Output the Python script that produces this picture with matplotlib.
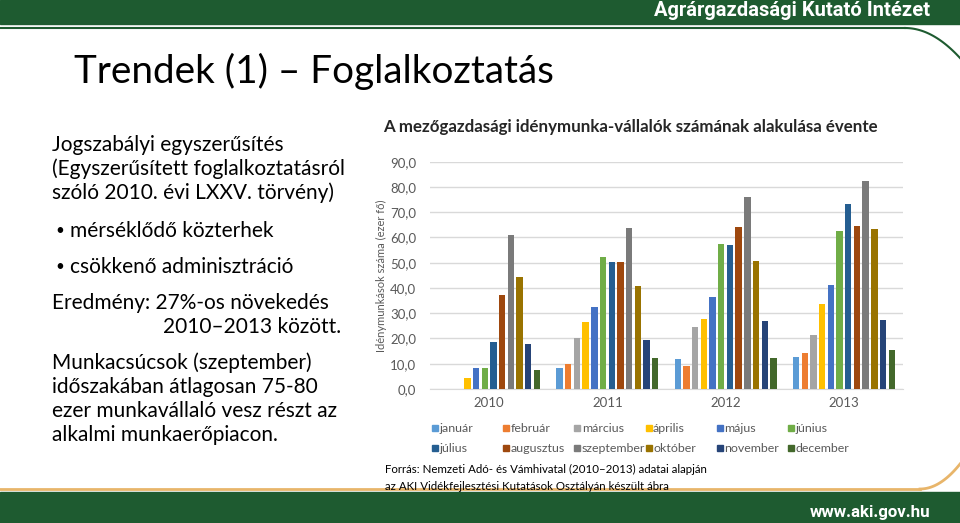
import numpy as np
import matplotlib
matplotlib.use("Agg")
import matplotlib.pyplot as plt
from matplotlib.patches import Rectangle

#### data (ezer fő)
years = ["2010", "2011", "2012", "2013"]
months = ["január", "február", "március", "április", "május", "június",
          "július", "augusztus", "szeptember", "október", "november", "december"]
v2010 = [0.0, 0.0, 0.0, 4.5, 8.2, 8.2, 18.8, 37.4, 60.9, 44.3, 18.0, 7.7]
v2011 = [8.3, 9.8, 20.1, 26.4, 32.4, 52.2, 50.4, 50.1, 63.8, 40.7, 19.3, 12.3]
v2012 = [12.0, 9.1, 24.4, 27.8, 36.6, 57.6, 57.0, 64.1, 75.9, 50.7, 27.1, 12.4]
v2013 = [12.6, 14.4, 21.4, 33.6, 41.0, 62.4, 73.2, 64.6, 82.3, 63.4, 27.5, 15.6]
yticks = [0, 10, 20, 30, 40, 50, 60, 70, 80, 90]
####

colors = ["#5B9BD5", "#ED7D31", "#A5A5A5", "#FFC000", "#4472C4", "#70AD47",
          "#255E91", "#9E480E", "#7A7A7A", "#997300", "#264478", "#43682B"]
green = "#1E5B30"
txt = "#595959"
body_font = "Lato"

fig = plt.figure(figsize=(9.6, 5.23), dpi=100)

#### slide background in pixel coordinates
bg = fig.add_axes([0, 0, 1, 1], zorder=-1)
bg.set_xlim(0, 960)
bg.set_ylim(523, 0)
bg.axis("off")
bg.add_patch(Rectangle((0, 0), 960, 24, color=green))
bg.plot([0, 905], [28, 28], color=green, lw=1.5)
t = np.linspace(0, 1, 30)
bg.plot(905 + 55 * t, 28 + 30 * t ** 2, color=green, lw=1.5)
bg.add_patch(Rectangle((0, 492), 960, 31, color=green))
bg.plot([0, 920], [489, 489], color="#E8B56A", lw=2)
bg.plot(920 + 40 * t, 489 - 25 * t ** 2, color="#E8B56A", lw=2)
bg.text(930, 11, "Agrárgazdasági Kutató Intézet", color="white", fontsize=14.5,
        fontweight="bold", family="Roboto", ha="right", va="center")
bg.text(930, 512, "www.aki.gov.hu", color="white", fontsize=12.2,
        fontweight="bold", family="Roboto", ha="right", va="center")
bg.text(74, 71, "Trendek (1) – Foglalkoztatás", fontsize=27.8, family=body_font,
        ha="left", va="center", color="black")

lines = [
    (52, 145, "Jogszabályi egyszerűsítés"),
    (52, 169, "(Egyszerűsített foglalkoztatásról"),
    (52, 193, "szóló 2010. évi LXXV. törvény)"),
    (70, 231, "mérséklődő közterhek"),
    (70, 267, "csökkenő adminisztráció"),
    (52, 303, "Eredmény: 27%-os növekedés"),
    (163, 327, "2010–2013 között."),
    (52, 363, "Munkacsúcsok (szeptember)"),
    (52, 387, "időszakában átlagosan 75-80"),
    (52, 411, "ezer munkavállaló vesz részt az"),
    (52, 435, "alkalmi munkaerőpiacon."),
]
for x, y, s in lines:
    bg.text(x, y, s, fontsize=15, family=body_font, ha="left", va="center")
for y in [231, 267]:
    bg.text(55, y, "•", fontsize=11, family=body_font, ha="left", va="center")

bg.text(383, 127, "A mezőgazdasági idénymunka-vállalók számának alakulása évente",
        fontsize=12.2, fontweight="bold", family=body_font, ha="left", va="center",
        color="#262626")
bg.text(385, 469, "Forrás: Nemzeti Adó- és Vámhivatal (2010–2013) adatai alapján",
        fontsize=8.3, family=body_font, ha="left", va="center")
bg.text(385, 487, "az AKI Vidékfejlesztési Kutatások Osztályán készült ábra",
        fontsize=8.3, family=body_font, ha="left", va="center")

#### chart
ax = fig.add_axes([430 / 960, (523 - 389) / 523, 473 / 960, 227.3 / 523])
data = np.array([v2010, v2011, v2012, v2013])
x = np.arange(len(years))
pitch = 0.0736
width = 0.054
for i, m in enumerate(months):
    ax.bar(x + (i - 5.5) * pitch, data[:, i], width=width, color=colors[i],
           label=m, zorder=3)

ax.set_xlim(-0.5, 3.5)
ax.set_ylim(0, 90)
ax.set_yticks(yticks)
ax.set_yticklabels([f"{v:.1f}".replace(".", ",") for v in yticks],
                   fontsize=9.5, color=txt, family=body_font)
ax.set_xticks(x)
ax.set_xticklabels(years, fontsize=9.5, color=txt, family=body_font)
ax.tick_params(length=0, pad=10)
ax.tick_params(axis="x", pad=6)
ax.grid(axis="y", color="#D9D9D9", lw=1, zorder=0)
for s in ["top", "right", "left"]:
    ax.spines[s].set_visible(False)
ax.spines["bottom"].set_color("#D9D9D9")
ax.set_ylabel("Idénymunkások száma (ezer fő)", fontsize=8, color=txt,
              family=body_font, labelpad=2)

#### legend, Excel style: equal column widths, two rows
for i, m in enumerate(months):
    col, row = i % 6, i // 6
    lx = 435 + col * 71.2
    ly = 428 + row * 20
    bg.add_patch(Rectangle((lx - 3, ly - 3), 6, 6, color=colors[i]))
    bg.text(lx + 4.5, ly, m, fontsize=8.9, family=body_font, color=txt,
            ha="left", va="center")

plt.savefig("out.png", dpi=100)
